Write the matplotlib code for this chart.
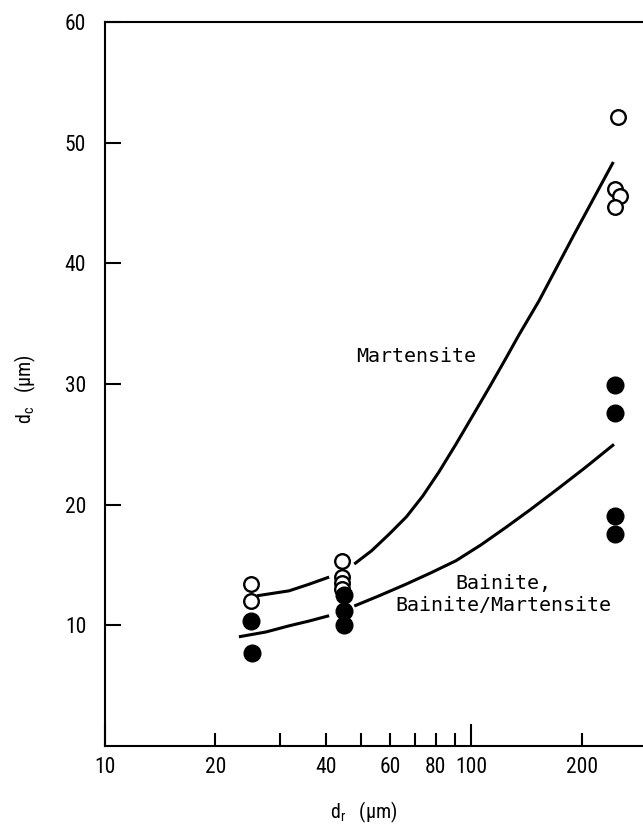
import matplotlib
matplotlib.use("Agg")
import matplotlib.pyplot as plt
from matplotlib import font_manager as fm
from matplotlib.ticker import FixedLocator, FixedFormatter

# ---- data ----
# open circles (martensite)
mart_x = [25.0, 25.0, 44.4, 44.4, 44.4, 44.4, 251.6, 247, 255, 247]
mart_y = [13.4, 12.0, 15.3, 14.0, 13.5, 13.0, 52.1, 46.2, 45.6, 44.7]
# filled circles (bainite, bainite/martensite)
bain_x = [25.0, 25.2, 44.8, 44.8, 44.8, 247, 247, 247, 247]
bain_y = [10.4, 7.7, 12.5, 11.2, 10.0, 29.9, 27.6, 19.1, 17.6]

# fitted curves (two segments each, gap around the 44 um data column)
mcurve1_x = [26.0, 31.8, 36.0, 40.9]
mcurve1_y = [12.45, 12.86, 13.4, 14.0]
mcurve2_x = [47.9, 53.5, 59.7, 66.5, 73.6, 81.5, 90.7, 100.5, 111.8, 123, 135, 153, 190, 244]
mcurve2_y = [15.08, 16.2, 17.57, 19.0, 20.7, 22.7, 25.0, 27.3, 29.7, 31.9, 34.1, 36.9, 42.3, 48.4]
bcurve1_x = [23.2, 27.5, 31.8, 36.0, 40.9]
bcurve1_y = [9.05, 9.45, 9.96, 10.35, 10.8]
bcurve2_x = [47.9, 56.0, 66.2, 77.5, 90.7, 106, 124, 145, 173.6, 205, 245]
bcurve2_y = [11.6, 12.45, 13.4, 14.35, 15.35, 16.65, 18.1, 19.6, 21.4, 23.1, 25.0]

xtick_major = [10, 100]
xtick_minor = [20, 30, 40, 50, 60, 70, 80, 90, 200]
xtick_minor_labels = ["20", "", "40", "", "60", "", "80", "", "200"]
ytick_vals = [10, 20, 30, 40, 50, 60]

# pick a narrow sans font if one is installed
_entries = fm.fontManager.ttflist
_names = {f.name for f in _entries}
tick_fp = None
for cand in ["Liberation Sans Narrow", "Roboto Condensed", "Open Sans Condensed",
             "Noto Sans Condensed", "DejaVu Sans Condensed", "Arial Narrow"]:
    if cand in _names:
        tick_fp = dict(family=[cand, "DejaVu Sans"], size=15.5)
        break
if tick_fp is None:
    cond = [f for f in _entries if str(f.stretch).lower() in ("condensed", "semi-condensed")
            or (isinstance(f.stretch, int) and f.stretch < 500)]
    cond = [f for f in cond if "Mono" not in f.name and "Serif" not in f.name]
    if cond:
        tick_fp = dict(family=[cond[0].name, "DejaVu Sans"], stretch="condensed", size=15)
    else:
        tick_fp = dict(family=["DejaVu Sans"], size=12.8)

MONO = ["DejaVu Sans Mono"]

fig = plt.figure(figsize=(6.43, 8.24), dpi=100)
ax = fig.add_axes([105 / 643, 78 / 824, 538 / 643, 724 / 824])
ax.set_xscale("log")
ax.set_xlim(10, 294)
ax.set_ylim(0, 60)

lw_curve = 2.2
for cx, cy in [(mcurve1_x, mcurve1_y), (mcurve2_x, mcurve2_y),
               (bcurve1_x, bcurve1_y), (bcurve2_x, bcurve2_y)]:
    ax.plot(cx, cy, color="black", lw=lw_curve, solid_capstyle="butt",
            solid_joinstyle="round")

ax.plot(mart_x, mart_y, linestyle="none", marker="o", markersize=10.5,
        markerfacecolor="white", markeredgecolor="black", markeredgewidth=1.7, zorder=3)
ax.plot(bain_x, bain_y, linestyle="none", marker="o", markersize=12,
        markerfacecolor="black", markeredgecolor="black", zorder=3)

# spines
for s in ["left", "bottom", "top"]:
    ax.spines[s].set_linewidth(1.5)
ax.spines["right"].set_visible(False)

# ticks
ax.xaxis.set_major_locator(FixedLocator(xtick_major))
ax.xaxis.set_major_formatter(FixedFormatter([str(v) for v in xtick_major]))
ax.xaxis.set_minor_locator(FixedLocator(xtick_minor))
ax.xaxis.set_minor_formatter(FixedFormatter(xtick_minor_labels))
ax.tick_params(axis="x", which="major", direction="in", length=16, width=1.5,
               pad=8, top=False, bottom=True)
ax.tick_params(axis="x", which="minor", direction="in", length=9.5, width=1.5,
               pad=8, top=False, bottom=True)
ax.set_yticks(ytick_vals)
ax.set_yticklabels([str(v) for v in ytick_vals])
ax.tick_params(axis="y", which="major", direction="in", length=11.5, width=1.5,
               pad=13.5, left=True, right=False)
for lab in ax.get_xticklabels(which="both") + ax.get_yticklabels():
    lab.set_fontproperties(fm.FontProperties(**tick_fp))

lab_fp = dict(tick_fp)
lab_fp["size"] = tick_fp["size"] - 1
ax.set_xlabel("d$_\\mathregular{r}$   (\u03bcm)", fontproperties=fm.FontProperties(**lab_fp),
              va="top")
ax.xaxis.set_label_coords(0.481, -0.074)
ax.set_ylabel("d$_\\mathregular{c}$   (\u03bcm)", fontproperties=fm.FontProperties(**lab_fp))
ax.yaxis.set_label_coords(-0.125, 0.493)

ax.text(0.579, 0.5377, "Martensite", transform=ax.transAxes, ha="center", va="center",
        fontsize=14.4, family=MONO)
ax.text(0.740, 0.2086, "Bainite,\nBainite/Martensite", transform=ax.transAxes,
        ha="center", va="center", multialignment="center", fontsize=14.4,
        family=MONO, linespacing=1.2)

fig.savefig("out.png", dpi=100)
